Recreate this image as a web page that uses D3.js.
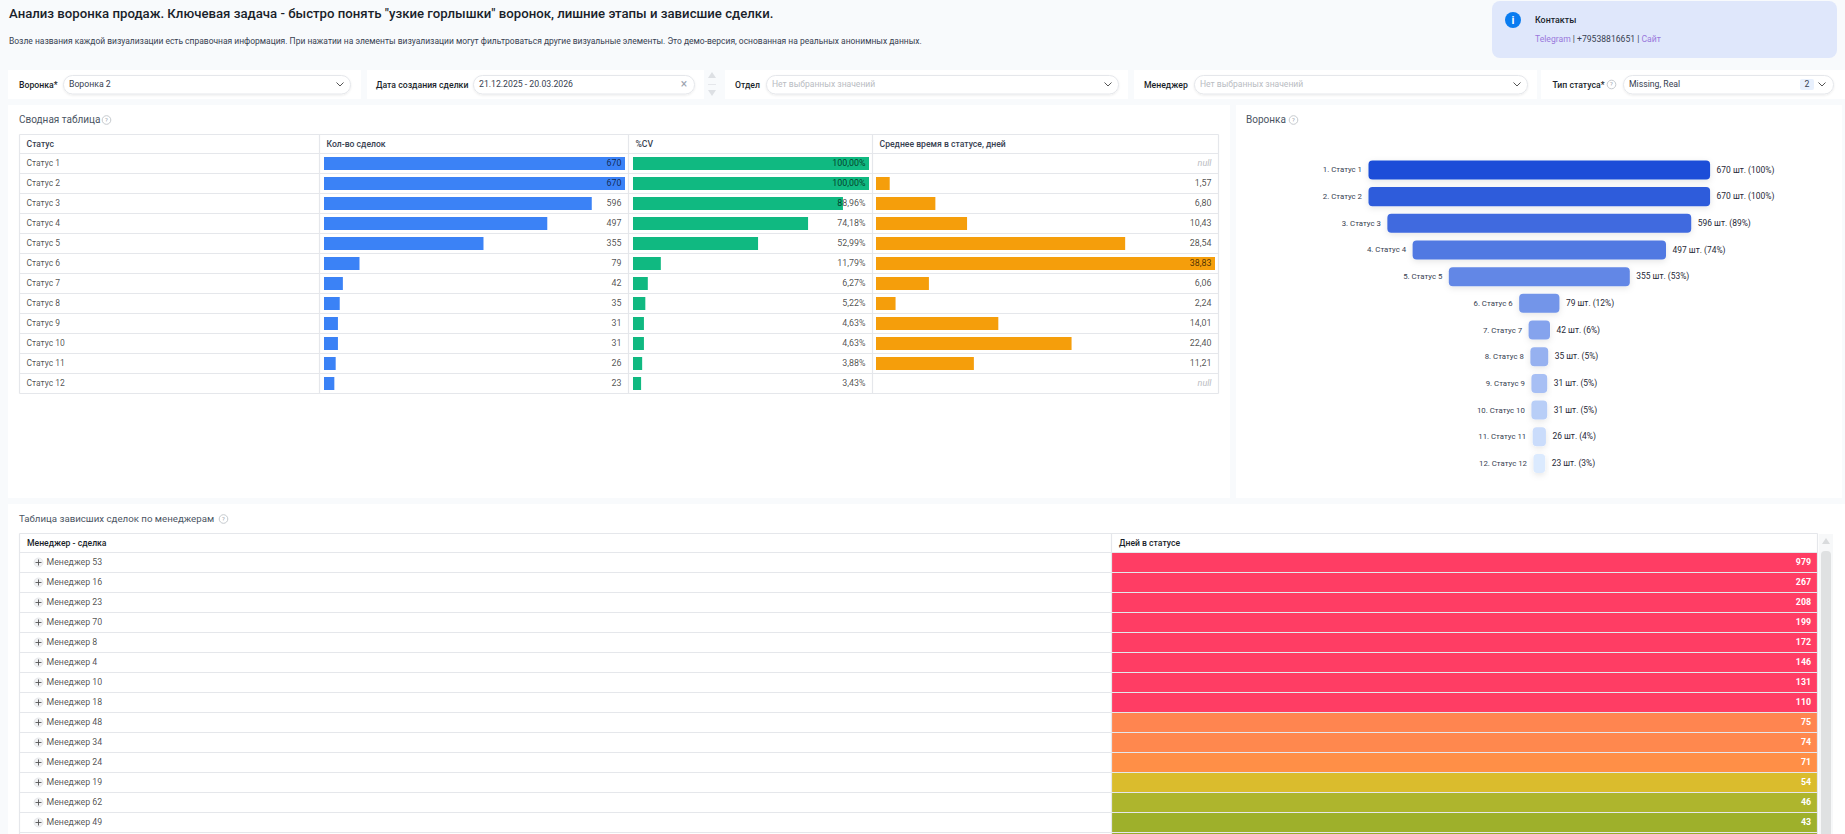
<!DOCTYPE html>
<html lang="ru">
<head>
<meta charset="utf-8">
<title>Анализ воронка продаж</title>
<script src="https://cdn.jsdelivr.net/npm/d3@7"></script>
<style>
  html,body{margin:0;padding:0;background:#f8fafc;overflow:hidden}
  svg{display:block}
  text{font-family:"Roboto","Noto Sans",sans-serif}
</style>
</head>
<body>
<div id="chart-area"></div>
<script>
//Data
const statuses = ["Статус 1","Статус 2","Статус 3","Статус 4","Статус 5","Статус 6","Статус 7","Статус 8","Статус 9","Статус 10","Статус 11","Статус 12"]
const dealCounts = [670,670,596,497,355,79,42,35,31,31,26,23]
const cvPercents = [100,100,88.96,74.18,52.99,11.79,6.27,5.22,4.63,4.63,3.88,3.43]
const avgDays = [null,1.57,6.80,10.43,28.54,38.83,6.06,2.24,14.01,22.40,11.21,null]

const managers = ["Менеджер 53","Менеджер 16","Менеджер 23","Менеджер 70","Менеджер 8","Менеджер 4","Менеджер 10","Менеджер 18","Менеджер 48","Менеджер 34","Менеджер 24","Менеджер 19","Менеджер 62","Менеджер 49"]
const stuckDays = [979,267,208,199,172,146,131,110,75,74,71,54,46,43]
const nextRowDays = 41 //only the top edge of the next row is in view

const summaryColumns = ["Статус","Кол-во сделок","%CV","Среднее время в статусе, дней"]
const stuckColumns = ["Менеджер - сделка","Дней в статусе"]

//Value -> colour stops of the stuck deals table
const heatStops = [41,43,46,54,71,75,110]
const heatColors = ["#98ae2b","#9eb02b","#aeb52d","#dabc2d","#ff8f47","#ff8550","#ff3d64"]

const ru = d3.formatLocale({decimal:",",thousands:" ",grouping:[3],currency:["","₽"]})
const fmt2 = ru.format(".2f")

const W = 1845, H = 834
const cellText = "rgba(0,0,0,0.7)"
const svg = d3.select("#chart-area").append("svg")
    .attr("width",W).attr("height",H).attr("viewBox",`0 0 ${W} ${H}`)

const defs = svg.append("defs")
const shadow = defs.append("filter").attr("id","bar-shadow")
    .attr("x","-30%").attr("y","-40%").attr("width","160%").attr("height","200%")
shadow.append("feDropShadow").attr("dx",0).attr("dy",2).attr("stdDeviation",3)
    .attr("flood-color","#000").attr("flood-opacity",0.10)
const inputShadow = defs.append("filter").attr("id","input-shadow")
    .attr("x","-5%").attr("y","-30%").attr("width","110%").attr("height","170%")
inputShadow.append("feDropShadow").attr("dx",0).attr("dy",1).attr("stdDeviation",1)
    .attr("flood-color","#000").attr("flood-opacity",0.08)

//Helpers
const label = (g,x,y,txt,o={})=> g.append("text")
    .attr("x",x).attr("y",y)
    .attr("dy","0.32em")
    .attr("font-size",o.size||8.5)
    .attr("font-weight",o.weight||400)
    .attr("font-style",o.style||null)
    .attr("text-anchor",o.anchor||"start")
    .attr("fill",o.fill||"#4b5563")
    .text(txt)

const panel = (x,y,w,h)=> svg.append("rect")
    .attr("x",x).attr("y",y).attr("width",w).attr("height",h).attr("fill","#fff")

const helpIcon = (g,cx,cy)=>{
    g.append("circle").attr("cx",cx).attr("cy",cy).attr("r",4.3)
        .attr("fill","none").attr("stroke","#b8bcc2").attr("stroke-width",0.8)
    label(g,cx,cy,"?",{size:6,anchor:"middle",fill:"#9ca3af"})
}

const chevron = (g,cx,cy)=> g.append("path")
    .attr("d",`M${cx-3.5},${cy-2} L${cx},${cy+1.5} L${cx+3.5},${cy-2}`)
    .attr("fill","none").attr("stroke","#555").attr("stroke-width",1)

//Header
const header = svg.append("g")
label(header,9,14,"Анализ воронка продаж. Ключевая задача - быстро понять \"узкие горлышки\" воронок, лишние этапы и зависшие сделки.",{size:13.2,weight:500,fill:"#1a1f2b"})
label(header,9,41,"Возле названия каждой визуализации есть справочная информация. При нажатии на элементы визуализации могут фильтроваться другие визуальные элементы. Это демо-версия, основанная на реальных анонимных данных.",{size:8.47,fill:"#374151"})

header.append("rect").attr("x",1492).attr("y",1).attr("width",345).attr("height",57)
    .attr("rx",8).attr("fill","#dfe7fb")
header.append("circle").attr("cx",1513).attr("cy",20).attr("r",8).attr("fill","#0a7cf0")
label(header,1513,20,"i",{size:11,weight:700,anchor:"middle",fill:"#fff"})
label(header,1535,20,"Контакты",{size:8.9,weight:500,fill:"#1a1f2b"})
const contact = header.append("text").attr("x",1535).attr("y",39).attr("dy","0.32em").attr("font-size",8.6)
contact.append("tspan").attr("fill","#9a78dc").text("Telegram")
contact.append("tspan").attr("fill","#374151").text(" | +79538816651 | ")
contact.append("tspan").attr("fill","#9a78dc").text("Сайт")

//Filters
const filters = [
    {px:8,pw:353,name:"Воронка*",lx:19,ix:63,iw:287,val:"Воронка 2"},
    {px:367,pw:337,name:"Дата создания сделки",lx:376,ix:473,iw:221,val:"21.12.2025 - 20.03.2026",clear:true},
    {px:725,pw:403,name:"Отдел",lx:735,ix:766,iw:352,hint:"Нет выбранных значений"},
    {px:1134,pw:403,name:"Менеджер",lx:1144,ix:1194,iw:333,hint:"Нет выбранных значений"},
    {px:1541,pw:304,name:"Тип статуса*",lx:1552.5,ix:1623,iw:210,val:"Missing, Real",count:"2",help:1611.5}
]
filters.forEach((f)=>{
    panel(f.px,70,f.pw,29)
    const g = svg.append("g")
    label(g,f.lx,85,f.name,{size:8.7,weight:500,fill:"#1a1f2b"})
    if(f.help) helpIcon(g,f.help,84.5)
    g.append("rect").attr("x",f.ix+0.5).attr("y",75.5).attr("width",f.iw).attr("height",18.5)
        .attr("rx",9).attr("fill","#fff").attr("stroke","#e5e7eb").attr("filter","url(#input-shadow)")
    if(f.val) label(g,f.ix+6,84,f.val,{size:8.7,fill:"#374151"})
    if(f.hint) label(g,f.ix+6,84,f.hint,{size:8.55,fill:"#b9bcc2"})
    if(f.clear){
        label(g,f.ix+f.iw-10,84.5,"×",{size:12,anchor:"middle",fill:"#9ca3af"})
    }else{
        chevron(g,f.ix+f.iw-(f.count?11:10),84.5)
    }
    if(f.count){
        g.append("rect").attr("x",f.ix+f.iw-33).attr("y",79).attr("width",14).attr("height",11)
            .attr("rx",2).attr("fill","#e8f0fd")
        label(g,f.ix+f.iw-26,84.5,f.count,{size:8.7,anchor:"middle",fill:"#374151"})
    }
})
//Small up/down arrows between the date and department filters
svg.append("path").attr("d","M708,78 L712,72 L716,78 Z").attr("fill","#dde0e4")
svg.append("path").attr("d","M708,90 L712,96 L716,90 Z").attr("fill","#dde0e4")
svg.append("line").attr("x1",708).attr("x2",716).attr("y1",84.5).attr("y2",84.5).attr("stroke","#e5e7eb")

//Summary table
panel(8,105,1222,393)
panel(1236,105,606,393)
panel(8,504,1837,330)

const rowY = d3.scaleBand().domain(statuses).range([153.5,393.5])
const rowsTop = 134.5
const colEdges = [19.5,319.5,628.5,872.5,1218.5]
const lineColor = "#e5e7eb"

const summary = svg.append("g").attr("class","summary")
label(summary,19,120,"Сводная таблица",{size:10,fill:"#4b5563"})
helpIcon(summary,106.5,120)

//Bar scales, one per column
const xCount = d3.scaleLinear().domain([0,d3.max(dealCounts)]).range([0,301])
const xCv = d3.scaleLinear().domain([0,d3.max(cvPercents)]).range([0,236])
const xDays = d3.scaleLinear().domain([0,d3.max(avgDays)]).range([0,339])

const summaryCols = [
    {values:dealCounts,scale:xCount,color:"#3b82f6",pad:4.5,text:(d)=>d},
    {values:cvPercents,scale:xCv,color:"#10b981",pad:4.5,text:(d)=>fmt2(d)+"%"},
    {values:avgDays,scale:xDays,color:"#f59e0b",pad:3.5,text:(d)=>fmt2(d)}
]

summaryCols.forEach((col,c)=>{
    const left = colEdges[c+1]+col.pad
    const right = colEdges[c+2]-3.5
    summary.selectAll(".bar"+c)
        .data(statuses.map((s,i)=>({s:s,v:col.values[i]})).filter((d)=>d.v!==null))
        .enter().append("rect")
            .attr("class","bar"+c)
            .attr("x",left)
            .attr("y",(d)=>rowY(d.s)+3.5)
            .attr("width",(d)=>col.scale(d.v))
            .attr("height",13)
            .attr("fill",col.color)
    statuses.forEach((s,i)=>{
        const v = col.values[i]
        if(v===null){
            label(summary,right-3.5,rowY(s)+rowY.bandwidth()/2,"null",{anchor:"end",size:9,style:"italic",fill:"#b9bcc2"})
        }else{
            label(summary,right-3.5,rowY(s)+rowY.bandwidth()/2,col.text(v),{anchor:"end",size:8.9,fill:cellText})
        }
    })
})

statuses.forEach((s)=>{
    label(summary,26.5,rowY(s)+rowY.bandwidth()/2,s,{size:8.5,fill:cellText})
})
summaryColumns.forEach((c,i)=>{
    label(summary,colEdges[i]+7,144,c,{size:8.65,weight:500,fill:"#374151"})
})
summary.selectAll(".hline").data([rowsTop].concat(statuses.map((s)=>rowY(s)+rowY.bandwidth())).concat([rowY.range()[0]]))
    .enter().append("line").attr("class","hline")
    .attr("x1",colEdges[0]).attr("x2",colEdges[4]).attr("y1",(d)=>d).attr("y2",(d)=>d).attr("stroke",lineColor).attr("stroke-width",1.2)
summary.selectAll(".vline").data(colEdges)
    .enter().append("line").attr("class","vline")
    .attr("x1",(d)=>d).attr("x2",(d)=>d).attr("y1",rowsTop).attr("y2",rowY.range()[1]).attr("stroke",lineColor).attr("stroke-width",1.2)

//Funnel
const funnel = svg.append("g").attr("class","funnel")
label(funnel,1246,120,"Воронка",{size:10,fill:"#4b5563"})
helpIcon(funnel,1293.5,120)

const funnelCenter = 1539.3
const funnelW = d3.scaleLinear().domain([0,d3.max(dealCounts)]).range([0,341.6])
const funnelY = d3.scaleBand().domain(statuses).range([156.7,476.7]).paddingInner(0.2875).paddingOuter(0.14)
const funnelColor = d3.scaleLinear().domain([0,statuses.length-1]).range(["#1d4ed8","#dbeafe"]).interpolate(d3.interpolateRgb)

const funnelRows = statuses.map((s,i)=>({s:s,i:i,v:dealCounts[i],cv:cvPercents[i]}))
funnel.selectAll(".step").data(funnelRows).enter().append("rect")
    .attr("class","step")
    .attr("x",(d)=>funnelCenter-funnelW(d.v)/2)
    .attr("y",(d)=>funnelY(d.s))
    .attr("width",(d)=>funnelW(d.v))
    .attr("height",funnelY.bandwidth())
    .attr("rx",4)
    .attr("fill",(d)=>funnelColor(d.i))
    .attr("filter","url(#bar-shadow)")
funnel.selectAll(".name").data(funnelRows).enter().append("text")
    .attr("class","name")
    .attr("x",(d)=>funnelCenter-funnelW(d.v)/2-6.5)
    .attr("y",(d)=>funnelY(d.s)+funnelY.bandwidth()/2)
    .attr("dy","0.32em").attr("text-anchor","end").attr("font-size",7.8).attr("fill","#374151")
    .text((d)=>(d.i+1)+". "+d.s)
funnel.selectAll(".val").data(funnelRows).enter().append("text")
    .attr("class","val")
    .attr("x",(d)=>funnelCenter+funnelW(d.v)/2+6.5)
    .attr("y",(d)=>funnelY(d.s)+funnelY.bandwidth()/2)
    .attr("dy","0.32em").attr("font-size",8.45).attr("fill","#1f2937")
    .text((d)=>d.v+" шт. ("+d3.format(".0f")(d.cv)+"%)")

//Stuck deals table
const stuck = svg.append("g").attr("class","stuck")
label(stuck,19,519,"Таблица зависших сделок по менеджерам",{size:9.7,fill:"#4b5563"})
helpIcon(stuck,223.5,519)

const stuckX = [19.5,1111.5,1817.5]
const stuckTop = 533.5
const stuckY = d3.scaleBand().domain(managers).range([552.5,552.5+20*managers.length])
const heat = d3.scaleLinear().domain(heatStops).range(heatColors).clamp(true)

stuck.selectAll(".cell").data(managers).enter().append("rect")
    .attr("class","cell")
    .attr("x",stuckX[1]+0.5)
    .attr("y",(d)=>stuckY(d)+0.5)
    .attr("width",stuckX[2]-stuckX[1]-1)
    .attr("height",19)
    .attr("fill",(d,i)=>heat(stuckDays[i]))
stuck.append("rect")
    .attr("x",stuckX[1]+0.5)
    .attr("y",stuckY.range()[1]+0.5)
    .attr("width",stuckX[2]-stuckX[1]-1)
    .attr("height",19)
    .attr("fill",heat(nextRowDays))

managers.forEach((m,i)=>{
    const cy = stuckY(m)+10
    stuck.append("circle").attr("cx",38.5).attr("cy",cy).attr("r",4.5).attr("fill","#f1f2f4").attr("stroke","#dfe1e5").attr("stroke-width",0.7)
    stuck.append("path").attr("d",`M35.5,${cy} H41.5 M38.5,${cy-3} V${cy+3}`).attr("stroke","#555").attr("stroke-width",0.9)
    label(stuck,46.5,cy,m,{size:8.8,fill:cellText})
    label(stuck,stuckX[2]-6.5,cy,stuckDays[i],{size:8.8,weight:700,anchor:"end",fill:"#fff"})
})
stuckColumns.forEach((c,i)=>{
    label(stuck,stuckX[i]+7.5,543,c,{size:8.65,weight:500,fill:"#1a1f2b"})
})
stuck.selectAll(".hline").data([stuckTop,stuckY.range()[0]].concat(managers.map((m)=>stuckY(m)+20)))
    .enter().append("line").attr("class","hline")
    .attr("x1",stuckX[0]).attr("x2",stuckX[2]).attr("y1",(d)=>d).attr("y2",(d)=>d).attr("stroke",lineColor).attr("stroke-width",1.2)
stuck.selectAll(".vline").data(stuckX)
    .enter().append("line").attr("class","vline")
    .attr("x1",(d)=>d).attr("x2",(d)=>d).attr("y1",stuckTop).attr("y2",H).attr("stroke",lineColor).attr("stroke-width",1.2)

//Scrollbar
svg.append("rect").attr("x",1819).attr("y",534).attr("width",14).attr("height",300).attr("fill","#f7f8f9")
svg.append("path").attr("d","M1822,544 L1826,538 L1830,544 Z").attr("fill","#d9dbdd")
svg.append("rect").attr("x",1821).attr("y",551).attr("width",10).attr("height",290).attr("rx",4).attr("fill","#dfe1e2")
</script>
</body>
</html>
